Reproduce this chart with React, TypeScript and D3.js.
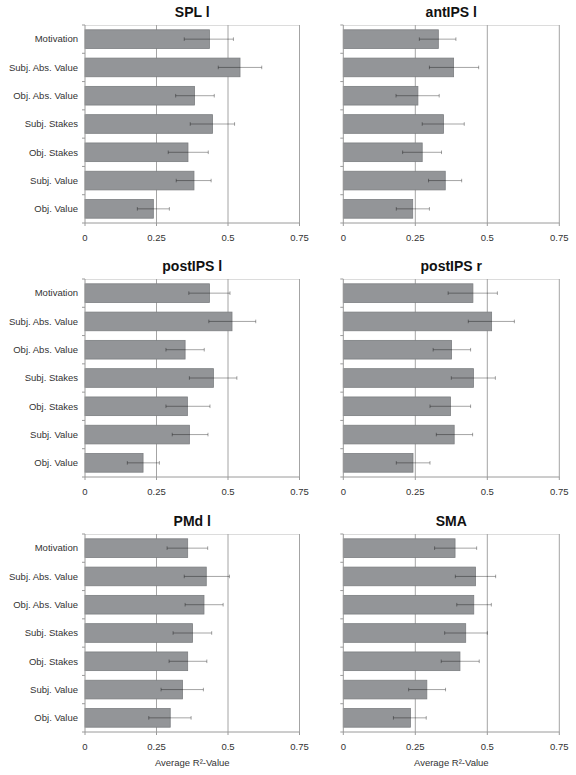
import React from "react";
import * as d3 from "d3";

const categories = [
  "Motivation",
  "Subj. Abs. Value",
  "Obj. Abs. Value",
  "Subj. Stakes",
  "Obj. Stakes",
  "Subj. Value",
  "Obj. Value",
];

const xTicks = [0, 0.25, 0.5, 0.75];
const xTickLabels = ["0", "0.25", "0.5", "0.75"];
const xAxisTitle = "Average R²-Value";

const panelTitles = ["SPL l", "antIPS l", "postIPS l", "postIPS r", "PMd l", "SMA"];

// mean values per panel (order of categories)
const splL = [0.435, 0.542, 0.383, 0.446, 0.36, 0.381, 0.239];
const splLLow = [0.347, 0.466, 0.317, 0.368, 0.291, 0.319, 0.183];
const splLHigh = [0.519, 0.618, 0.452, 0.523, 0.431, 0.441, 0.295];

const antIpsL = [0.33, 0.383, 0.259, 0.348, 0.274, 0.354, 0.241];
const antIpsLLow = [0.264, 0.299, 0.183, 0.274, 0.206, 0.296, 0.184];
const antIpsLHigh = [0.391, 0.47, 0.333, 0.42, 0.341, 0.411, 0.299];

const postIpsL = [0.435, 0.514, 0.35, 0.449, 0.358, 0.365, 0.203];
const postIpsLLow = [0.363, 0.433, 0.283, 0.365, 0.283, 0.305, 0.148];
const postIpsLHigh = [0.507, 0.597, 0.417, 0.531, 0.437, 0.43, 0.26];

const postIpsR = [0.45, 0.515, 0.376, 0.452, 0.372, 0.385, 0.242];
const postIpsRLow = [0.364, 0.434, 0.312, 0.375, 0.301, 0.323, 0.184];
const postIpsRHigh = [0.535, 0.594, 0.442, 0.528, 0.442, 0.449, 0.301];

const pmdL = [0.359, 0.424, 0.416, 0.376, 0.359, 0.341, 0.298];
const pmdLLow = [0.287, 0.347, 0.35, 0.308, 0.294, 0.266, 0.223];
const pmdLHigh = [0.429, 0.505, 0.483, 0.443, 0.426, 0.414, 0.371];

const sma = [0.388, 0.459, 0.453, 0.425, 0.405, 0.29, 0.233];
const smaLow = [0.317, 0.389, 0.394, 0.352, 0.34, 0.227, 0.174];
const smaHigh = [0.463, 0.529, 0.514, 0.5, 0.472, 0.355, 0.288];

const panelValues = [splL, antIpsL, postIpsL, postIpsR, pmdL, sma];
const panelLow = [splLLow, antIpsLLow, postIpsLLow, postIpsRLow, pmdLLow, smaLow];
const panelHigh = [splLHigh, antIpsLHigh, postIpsLHigh, postIpsRHigh, pmdLHigh, smaHigh];

const FONT = "'Liberation Sans', Arial, Helvetica, sans-serif";
const colX = [85, 343.3];
const colW = [214.5, 216];
const rowY = [25, 279, 534];
const plotH = 198;

function Panel({ idx }: { idx: number }) {
  const col = idx % 2;
  const row = Math.floor(idx / 2);
  const left = colX[col];
  const top = rowY[row];
  const w = colW[col];
  const x = d3.scaleLinear().domain([0, 0.75]).range([0, w]);
  const y = d3.scaleBand().domain(categories).range([0, plotH]).paddingInner(0.34).paddingOuter(0.17);
  const vals = panelValues[idx];
  const lo = panelLow[idx];
  const hi = panelHigh[idx];
  const step = plotH / categories.length;
  const showCats = col === 0;
  const showXTitle = row === 2;
  return (
    <g transform={`translate(${left},${top})`}>
      <text
        x={w / 2}
        y={-8}
        textAnchor="middle"
        fontFamily={FONT}
        fontWeight="bold"
        fontSize={14}
        fill="#111"
      >
        {panelTitles[idx]}
      </text>
      {/* top border */}
      <line x1={0} x2={w} y1={0.5} y2={0.5} stroke="#dcdcdc" strokeWidth={1} />
      {/* grid lines */}
      {xTicks.slice(1).map((t) => (
        <line key={t} x1={x(t)} x2={x(t)} y1={0} y2={plotH} stroke="#a4a4a4" strokeWidth={1} />
      ))}
      {/* bars */}
      {categories.map((c, i) => (
        <rect
          key={c}
          x={x(0)}
          y={y(c)!}
          width={x(vals[i]) - x(0)}
          height={y.bandwidth()}
          fill="#939598"
          stroke="#7c7e81"
          strokeWidth={0.8}
        />
      ))}
      {/* error bars */}
      {categories.map((c, i) => {
        const cy = y(c)! + y.bandwidth() / 2;
        return (
          <g key={c} stroke="#000" strokeOpacity={0.4} strokeWidth={0.9}>
            <line x1={x(lo[i])} x2={x(hi[i])} y1={cy} y2={cy} />
            <line x1={x(lo[i])} x2={x(lo[i])} y1={cy - 1.8} y2={cy + 1.8} />
            <line x1={x(hi[i])} x2={x(hi[i])} y1={cy - 1.8} y2={cy + 1.8} />
          </g>
        );
      })}
      {/* left axis */}
      <line x1={0} x2={0} y1={0} y2={plotH} stroke="#9a9a9a" strokeWidth={1} />
      {d3.range(categories.length + 1).map((k) => (
        <line key={k} x1={-3} x2={0} y1={k * step} y2={k * step} stroke="#9a9a9a" strokeWidth={1} />
      ))}
      {/* bottom axis */}
      <line x1={0} x2={w} y1={plotH} y2={plotH} stroke="#9a9a9a" strokeWidth={1} />
      {xTicks.map((t, k) => (
        <g key={t}>
          <line x1={x(t)} x2={x(t)} y1={plotH} y2={plotH + 3} stroke="#9a9a9a" strokeWidth={1} />
          <text
            x={x(t)}
            y={plotH + 18}
            textAnchor="middle"
            fontFamily={FONT}
            fontSize={9.5}
            fill="#333"
          >
            {xTickLabels[k]}
          </text>
        </g>
      ))}
      {showCats &&
        categories.map((c) => (
          <text
            key={c}
            x={-7}
            y={y(c)! + y.bandwidth() / 2}
            dy="0.35em"
            textAnchor="end"
            fontFamily={FONT}
            fontSize={9.5}
            fill="#333"
          >
            {c}
          </text>
        ))}
      {showXTitle && (
        <text
          x={w / 2}
          y={plotH + 34}
          textAnchor="middle"
          fontFamily={FONT}
          fontSize={9.5}
          fill="#333"
        >
          {xAxisTitle}
        </text>
      )}
    </g>
  );
}

export default function App() {
  return (
    <svg
      width={576}
      height={775}
      style={{ position: "absolute", left: 0, top: 0, background: "#fff" }}
    >
      <rect width={576} height={775} fill="#fff" />
      {panelTitles.map((t, i) => (
        <Panel key={t} idx={i} />
      ))}
    </svg>
  );
}
